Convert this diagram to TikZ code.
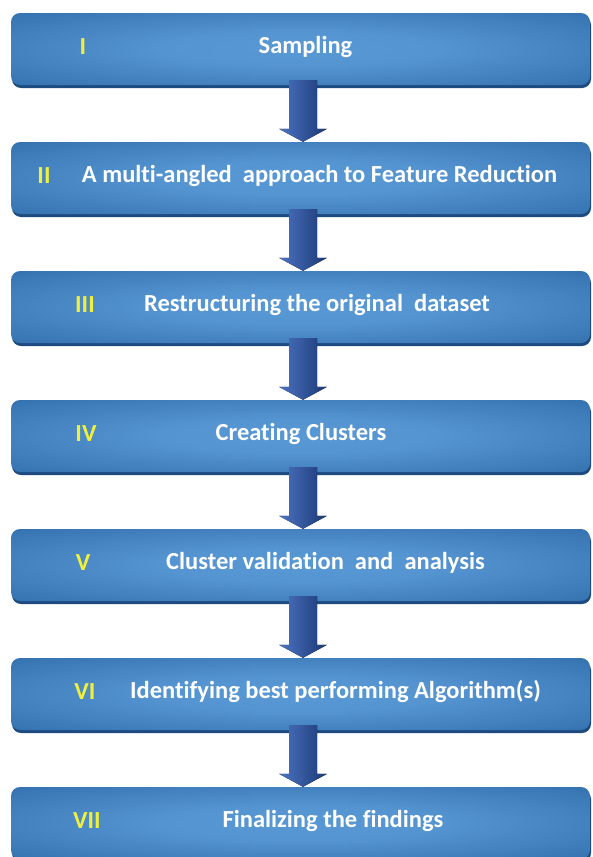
\documentclass[tikz,border=0pt]{standalone}
\usepackage{fontspec}
\setmainfont{Carlito}[Ligatures=NoCommon]
\usetikzlibrary{shadows,calc}

\definecolor{boxedge}{HTML}{2B68A7}
\definecolor{boxmid}{HTML}{5898D4}
\definecolor{boxshade}{HTML}{1D4B80}
\definecolor{numyellow}{HTML}{F0F03C}
\definecolor{arrowlight}{HTML}{4C74C2}
\definecolor{arrowdark}{HTML}{1B3875}

% light centre fading to the darker rim of each step box
\pgfdeclareradialshading{boxglow}{\pgfpoint{0bp}{0bp}}{%
  color(0bp)=(boxmid); color(12bp)=(boxmid!92!boxedge);
  color(42bp)=(boxedge); color(72bp)=(boxedge)}

\tikzset{
  stepbox/.style={rounded corners=9pt, shading=boxglow, draw=none,
    minimum width=579pt, minimum height=72pt, inner sep=0pt,
    general shadow={fill=boxshade, shadow xshift=1pt, shadow yshift=-3pt}},
  steplabel/.style={text=white, inner sep=0pt,
    font=\bfseries\fontsize{24.5}{28}\selectfont},
  stepnum/.style={text=numyellow, inner sep=0pt,
    font=\bfseries\fontsize{24.5}{28}\selectfont},
  flowarrow/.style={left color=arrowlight, right color=arrowdark, draw=none},
}

\begin{document}
\begin{tikzpicture}[x=1pt, y=-1pt]
  \useasboundingbox (0,0) rectangle (593,857);
  \clip (0,0) rectangle (593,857);

  % step boxes, one every 129 units
  \foreach \k/\top in {1/13, 2/142, 3/271, 4/400, 5/529, 6/658, 7/787} {
    \node[stepbox] (b\k) at (300.5, \top+36) {};
  }

  % block arrows between consecutive boxes
  \foreach \a/\b in {1/2, 2/3, 3/4, 4/5, 5/6, 6/7} {
    \fill[flowarrow]
      ($(b\a.south)+(-11.5,-5)$) -- ($(b\a.south)+(16.5,-5)$)
      -- ($(b\b.north)+(16.5,-13)$) -- ($(b\b.north)+(26.5,-13)$)
      -- ($(b\b.north)+(2.5,0)$)
      -- ($(b\b.north)+(-21.5,-13)$) -- ($(b\b.north)+(-11.5,-13)$) -- cycle;
  }

  % roman numerals
  \node[stepnum] (n1) at (83, 46.5)  {I};
  \node[stepnum] (n2) at (44, 175.5) {II};
  \node[stepnum] (n3) at (85, 304.5) {III};
  \node[stepnum] (n4) at (86, 433.5) {IV};
  \node[stepnum] (n5) at (83, 562.5) {V};
  \node[stepnum] (n6) at (85, 691.5) {VI};
  \node[stepnum] (n7) at (87, 820.5) {VII};

  % step titles
  \node[steplabel] (t1) at (305.5, 46.5)  {Sampling};
  \node[steplabel] (t2) at (319.5, 175.5) {A multi-angled\ \ approach to Feature Reduction};
  \node[steplabel] (t3) at (317, 304.5)   {Restructuring the original\ \ dataset};
  \node[steplabel] (t4) at (301, 433.5)   {Creating Clusters};
  \node[steplabel] (t5) at (325.5, 562.5) {Cluster validation\ \ and\ \ analysis};
  \node[steplabel] (t6) at (335.5, 691.5) {Identifying best performing Algorithm(s)};
  \node[steplabel] (t7) at (333, 820.5)   {Finalizing the findings};
\end{tikzpicture}
\end{document}
